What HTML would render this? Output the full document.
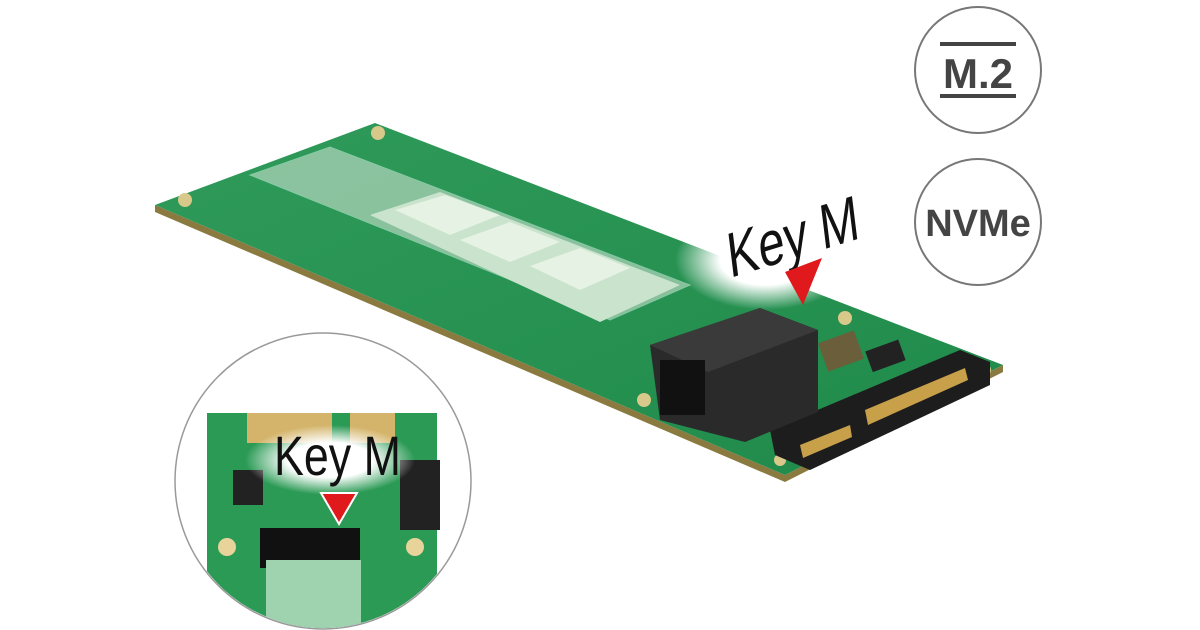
<!DOCTYPE html>
<html><head><style>
html,body{margin:0;padding:0;background:#fff;}
svg{display:block}
text{font-family:"Liberation Sans",sans-serif}
</style></head><body>
<svg width="1200" height="630" viewBox="0 0 1200 630" xmlns="http://www.w3.org/2000/svg">
<defs>
<linearGradient id="bg" x1="0" y1="0" x2="1" y2="1">
<stop offset="0" stop-color="#2f9a5a"/><stop offset="1" stop-color="#1f8a4a"/>
</linearGradient>
<clipPath id="ic"><circle cx="323" cy="481" r="147"/></clipPath>
<radialGradient id="glow"><stop offset="0.5" stop-color="#fff"/><stop offset="1" stop-color="#fff" stop-opacity="0"/></radialGradient>
</defs>
<polygon points="155,212 785,482 1003,372 1003,365 785,475 155,205" fill="#8a7a40"/>
<polygon points="155,205 375,123 1003,365 785,475" fill="url(#bg)"/>
<polygon points="250,175 330,147 690,285 610,320" fill="#e9eee6" opacity="0.5" stroke="#dfe" stroke-width="1"/>
<polygon points="370,215 440,192 680,285 600,322" fill="#c9e3cc"/>
<polygon points="395,210 445,195 500,215 450,235" fill="#e6f2e4"/>
<polygon points="460,240 510,222 560,242 510,262" fill="#e6f2e4"/>
<polygon points="530,266 580,248 630,268 580,290" fill="#e6f2e4"/>
<circle cx="185" cy="200" r="7" fill="#d8c98a"/><circle cx="378" cy="133" r="7" fill="#d8c98a"/>
<circle cx="985" cy="370" r="6" fill="#d8c98a"/><circle cx="780" cy="460" r="6" fill="#d8c98a"/>
<circle cx="845" cy="318" r="7" fill="#d8c98a"/><circle cx="644" cy="400" r="7" fill="#d8c98a"/>
<ellipse cx="765" cy="260" rx="90" ry="50" fill="url(#glow)"/>
<rect x="822" y="336" width="38" height="30" fill="#6b5e3a" transform="rotate(-20 841 351)"/>
<rect x="868" y="345" width="35" height="22" fill="#222" transform="rotate(-20 885 356)"/>
<polygon points="770,430 960,350 990,362 990,385 810,470 775,455" fill="#1d1d1d"/>
<polygon points="865,410 965,368 968,380 868,425" fill="#c8a04a"/>
<polygon points="800,445 850,425 852,437 803,458" fill="#c8a04a"/>
<polygon points="650,345 760,308 818,330 818,412 745,442 660,420" fill="#2a2a2a"/>
<polygon points="650,345 760,308 818,330 708,372" fill="#3a3a3a"/>
<rect x="660" y="360" width="45" height="55" fill="#111"/>
<text x="0" y="0" font-size="62" fill="#111" transform="translate(730,278) rotate(-17) skewX(-10) scale(0.78,1)">Key M</text>
<polygon points="785,272 822,258 803,305" fill="#e0191c"/>
<circle cx="978" cy="70" r="63" fill="#fff" stroke="#777" stroke-width="2"/>
<text x="978" y="88" font-size="42" font-weight="bold" fill="#444" text-anchor="middle">M.2</text>
<rect x="940" y="42" width="76" height="4" fill="#444"/>
<rect x="940" y="94" width="76" height="4" fill="#444"/>
<circle cx="978" cy="222" r="63" fill="#fff" stroke="#777" stroke-width="2"/>
<text x="978" y="236" font-size="38" font-weight="bold" fill="#444" text-anchor="middle">NVMe</text>
<circle cx="323" cy="481" r="148" fill="#fff" stroke="#999" stroke-width="1.5"/>
<g clip-path="url(#ic)">
<rect x="207" y="413" width="230" height="230" fill="#2b9a55"/>
<rect x="247" y="413" width="85" height="30" fill="#d4b46a"/>
<rect x="350" y="413" width="45" height="30" fill="#d4b46a"/>
<rect x="400" y="460" width="40" height="70" fill="#222"/>
<rect x="233" y="470" width="30" height="35" fill="#222"/>
<rect x="260" y="528" width="100" height="40" fill="#111"/>
<rect x="266" y="560" width="95" height="90" fill="#9fd3b0"/>
<circle cx="227" cy="547" r="9" fill="#e8d49a"/><circle cx="415" cy="547" r="9" fill="#e8d49a"/>
<ellipse cx="330" cy="460" rx="85" ry="35" fill="url(#glow)"/>
</g>
<text x="0" y="0" font-size="56" fill="#111" transform="translate(274,475) scale(0.8,1)">Key M</text>
<polygon points="321,493 357,493 339,524" fill="#e0191c" stroke="#fff" stroke-width="2"/>
</svg>
</body></html>
